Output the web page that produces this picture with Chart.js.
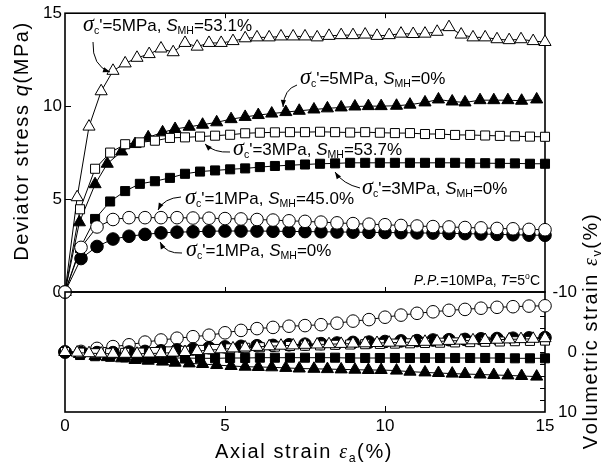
<!DOCTYPE html>
<html>
<head>
<meta charset="utf-8">
<script src="https://cdn.jsdelivr.net/npm/chart.js@4.4.1/dist/chart.umd.min.js"></script>
<style>
  html, body { margin: 0; padding: 0; background: #fff; }
  #wrap { position: relative; width: 612px; height: 466px; }
  canvas { position: absolute; left: 0; top: 0; }
</style>
</head>
<body>
<div id="wrap">
  <canvas id="qChart" width="612" height="466"></canvas>
  <canvas id="evChart" width="612" height="466"></canvas>
</div>
<script>
// axial strain (%) at each measuring point, one list per marker series
const strainC = [0, 0.5, 1, 1.5, 2, 2.5, 3, 3.5, 4, 4.5, 5, 5.5, 6, 6.5, 7, 7.5, 8, 8.5, 9, 9.5, 10,
  10.5, 11, 11.5, 12, 12.5, 13, 13.5, 14, 14.5, 15];
const strainS = [0, 0.47, 0.94, 1.41, 1.88, 2.34, 2.81, 3.28, 3.75, 4.22, 4.69, 5.16, 5.63, 6.09, 6.56,
  7.03, 7.5, 7.97, 8.44, 8.91, 9.38, 9.84, 10.31, 10.78, 11.25, 11.72, 12.19, 12.66, 13.13, 13.59,
  14.06, 14.53, 15];
const strainTF = [0, 0.45, 0.94, 1.32, 1.77, 2.19, 2.6, 3.05, 3.44, 3.88, 4.3, 4.74, 5.19, 5.63, 6.04,
  6.46, 6.9, 7.32, 7.78, 8.2, 8.63, 9.06, 9.48, 9.88, 10.36, 10.78, 11.25, 11.67, 12.1, 12.5, 12.97,
  13.4, 13.84, 14.27, 14.74];
const strainTO = [0, 0.38, 0.75, 1.13, 1.5, 1.88, 2.25, 2.63, 3, 3.38, 3.75, 4.13, 4.5, 4.88, 5.25,
  5.63, 6, 6.38, 6.75, 7.13, 7.5, 7.88, 8.25, 8.63, 9, 9.38, 9.75, 10.13, 10.5, 10.88, 11.25, 11.63,
  12, 12.38, 12.75, 13.13, 13.5, 13.88, 14.25, 14.63, 15];

// deviator stress q (MPa)
const qTO = [0, 5.1, 8.9, 10.8, 11.9, 12.3, 12.6, 12.8, 13.1, 12.9, 13.4, 13.2, 13.4, 13.4, 13.5,
  13.65, 13.7, 13.7, 13.75, 13.75, 13.75, 13.7, 13.78, 13.82, 13.82, 13.85, 13.78, 13.82, 13.9, 13.88,
  13.9, 14.0, 14.25, 13.85, 13.7, 13.7, 13.6, 13.55, 13.6, 13.5, 13.45];
const qTF = [0, 3.75, 5.8, 6.9, 7.56, 7.96, 8.32, 8.59, 8.77, 8.89, 9.0, 9.13, 9.3, 9.42, 9.52, 9.6,
  9.68, 9.75, 9.82, 9.88, 9.93, 9.98, 10.0, 10.0, 10.02, 10.08, 10.2, 10.36, 10.25, 10.2, 10.32,
  10.32, 10.32, 10.29, 10.36];
const qOS = [0, 4.45, 6.63, 7.5, 7.95, 8.05, 8.14, 8.29, 8.32, 8.36, 8.41, 8.46, 8.54, 8.57, 8.59,
  8.6, 8.6, 8.62, 8.6, 8.58, 8.6, 8.57, 8.55, 8.55, 8.5, 8.5, 8.45, 8.45, 8.42, 8.4, 8.38, 8.36, 8.35];
const qFS = [0, 2.36, 3.93, 4.87, 5.43, 5.82, 5.96, 6.14, 6.36, 6.48, 6.54, 6.6, 6.65, 6.72, 6.78,
  6.82, 6.86, 6.9, 6.92, 6.95, 6.95, 6.95, 6.95, 6.95, 6.95, 6.95, 6.95, 6.93, 6.93, 6.92, 6.92, 6.9, 6.9];
const qOC = [0, 2.4, 3.5, 3.9, 4.0, 4.0, 4.0, 4.0, 3.98, 3.97, 3.95, 3.93, 3.9, 3.87, 3.83, 3.8,
  3.76, 3.72, 3.68, 3.65, 3.62, 3.58, 3.55, 3.52, 3.5, 3.47, 3.45, 3.42, 3.4, 3.37, 3.35];
const qFC = [0, 1.8, 2.45, 2.85, 3.0, 3.1, 3.18, 3.22, 3.24, 3.27, 3.28, 3.28, 3.28, 3.27, 3.26,
  3.25, 3.24, 3.23, 3.22, 3.21, 3.2, 3.19, 3.18, 3.17, 3.15, 3.14, 3.12, 3.1, 3.08, 3.06, 3.05];

// volumetric strain ev (%), compression positive
const evTO = [0, 0.1, 0.2, 0.25, 0.3, 0.3, 0.3, 0.25, 0.2, 0.1, 0, -0.15, -0.3, -0.45, -0.6, -0.75,
  -0.85, -0.95, -1.05, -1.1, -1.2, -1.25, -1.3, -1.35, -1.4, -1.45, -1.5, -1.55, -1.6, -1.65, -1.7,
  -1.75, -1.85, -1.9, -1.95, -2.0, -2.05, -2.1, -2.15, -2.2, -2.3];
const evTF = [0, 0.33, 0.67, 0.85, 1.05, 1.33, 1.45, 1.6, 1.78, 1.9, 2.0, 2.17, 2.33, 2.45, 2.5,
  2.55, 2.65, 2.75, 2.8, 2.85, 2.9, 2.95, 3.0, 3.0, 3.1, 3.28, 3.4, 3.5, 3.6, 3.67, 3.75, 3.83, 3.9,
  4.0, 4.1];
const evOS = [0, 0.1, 0.2, 0.2, 0.15, 0.1, 0, -0.1, -0.2, -0.35, -0.5, -0.6, -0.7, -0.8, -0.9, -1.0,
  -1.05, -1.1, -1.2, -1.25, -1.3, -1.35, -1.4, -1.45, -1.5, -1.55, -1.6, -1.65, -1.7, -1.75, -1.8,
  -1.85, -1.9];
const evFS = [0, 0.5, 0.7, 0.8, 0.9, 0.95, 1.0, 1.0, 1.0, 1.05, 1.05, 1.0, 1.0, 0.95, 0.95, 0.95,
  0.95, 0.95, 0.95, 1.0, 1.0, 1.0, 1.0, 1.0, 1.0, 1.0, 1.0, 1.0, 1.0, 1.0, 1.05, 1.05, 1.05];
const evOC = [0, -0.1, -0.6, -0.9, -1.2, -1.65, -2.0, -2.3, -2.55, -2.8, -3.2, -3.6, -3.9, -4.1,
  -4.3, -4.4, -4.55, -4.8, -5.15, -5.4, -5.8, -6.15, -6.45, -6.7, -6.95, -7.1, -7.3, -7.45, -7.55,
  -7.65, -7.7];
const evFC = [0, 0.1, 0.1, 0.1, 0, -0.1, -0.2, -0.35, -0.5, -0.7, -0.85, -0.95, -1.05, -1.1, -1.2,
  -1.3, -1.4, -1.5, -1.6, -1.65, -1.75, -1.85, -1.9, -2.0, -2.05, -2.1, -2.2, -2.25, -2.3, -2.35, -2.4];

// axis ticks
const xTickMarks = [5, 10];
const qTickMarks = [5, 10];
const evTickMarks = [-8, -6, -4, -2, 0, 2, 4, 6, 8];

const FAM = '"Liberation Sans", Arial, sans-serif';
const SERIF = '"Liberation Serif", "Times New Roman", serif';

function pts(xs, ys) {
  return xs.map(function (x, i) { return { x: x, y: ys[i] }; });
}

function series(xs, ys, style, open, radius) {
  return {
    data: pts(xs, ys),
    showLine: true,
    borderColor: '#000',
    borderWidth: 1,
    pointStyle: style,
    pointRadius: radius,
    pointBorderWidth: 1,
    pointBorderColor: '#000',
    pointBackgroundColor: open ? '#fff' : '#000',
    tension: 0,
    clip: false,
  };
}

// draws text made of parts (italic / subscript / superscript), baseline at y
function richText(ctx, x, y, parts, size, align, spacing) {
  spacing = spacing || 0;
  var items = [];
  var total = 0;
  parts.forEach(function (p) {
    var s = (p.sub || p.sup) ? size * 0.62 : size * (p.scale || 1);
    var font = (p.it ? 'italic ' : '') + s + 'px ' + (p.serif ? SERIF : FAM);
    ctx.font = font;
    Array.from(p.t).forEach(function (ch) {
      var w = ctx.measureText(ch).width + spacing;
      items.push({ ch: ch, font: font, w: w, dy: p.sub ? size * 0.2 : (p.sup ? -size * 0.42 : 0) });
      total += w;
    });
  });
  var cx = align === 'right' ? x - total : (align === 'center' ? x - total / 2 : x);
  ctx.textAlign = 'left';
  ctx.textBaseline = 'alphabetic';
  items.forEach(function (it) {
    ctx.font = it.font;
    ctx.fillText(it.ch, cx, y + it.dy);
    cx += it.w;
  });
}

function arrow(ctx, p0, c, p1) {
  ctx.beginPath();
  ctx.moveTo(p0[0], p0[1]);
  ctx.quadraticCurveTo(c[0], c[1], p1[0], p1[1]);
  ctx.stroke();
  var ang = Math.atan2(p1[1] - c[1], p1[0] - c[0]);
  var L = 7, W = 2.6;
  var bx = p1[0] - L * Math.cos(ang), by = p1[1] - L * Math.sin(ang);
  ctx.beginPath();
  ctx.moveTo(p1[0], p1[1]);
  ctx.lineTo(bx + W * Math.sin(ang), by - W * Math.cos(ang));
  ctx.lineTo(bx - W * Math.sin(ang), by + W * Math.cos(ang));
  ctx.closePath();
  ctx.fill();
}

function label(sig, smh) {
  return [
    { t: 'σ', it: true, serif: true, scale: 1.3 }, { t: 'c', sub: true }, { t: "'=" + sig + 'MPa, ' },
    { t: 'S', it: true }, { t: 'MH', sub: true }, { t: '=' + smh + '%' },
  ];
}

// text left x, baseline y, then arrow start / control / head (pixels)
const notes = [
  { x: 83, y: 31, parts: label(5, '53.1'), a: [[93, 42], [92, 66], [110, 72]] },
  { x: 300, y: 84, parts: label(5, '0'), a: [[297, 85], [284, 89], [283, 107]] },
  { x: 233, y: 155, parts: label(3, '53.7'), a: [[230, 152], [214, 153], [205, 144]] },
  { x: 362, y: 194, parts: label(3, '0'), a: [[360, 188], [343, 184], [335, 172]] },
  { x: 185, y: 204, parts: label(1, '45.0'), a: [[181, 197], [164, 198], [158, 210]] },
  { x: 186, y: 256, parts: label(1, '0'), a: [[182, 253], [166, 254], [160, 242]] },
];

const topFrame = {
  id: 'topFrame',
  beforeDatasetsDraw(chart) {
    var ctx = chart.ctx, a = chart.chartArea, x = chart.scales.x, y = chart.scales.y;
    ctx.save();
    ctx.strokeStyle = '#000';
    ctx.lineWidth = 1.6;
    ctx.strokeRect(a.left, a.top, a.right - a.left, a.bottom - a.top);
    ctx.lineWidth = 1;
    ctx.beginPath();
    xTickMarks.forEach(function (v) {
      var px = Math.round(x.getPixelForValue(v)) + 0.5;
      ctx.moveTo(px, a.top); ctx.lineTo(px, a.top + 5);
      ctx.moveTo(px, a.bottom); ctx.lineTo(px, a.bottom - 5);
    });
    qTickMarks.forEach(function (v) {
      var py = Math.round(y.getPixelForValue(v)) + 0.5;
      ctx.moveTo(a.left, py); ctx.lineTo(a.left + 6, py);
    });
    ctx.stroke();
    ctx.restore();
  },
  afterDatasetsDraw(chart) {
    var ctx = chart.ctx;
    ctx.save();
    ctx.fillStyle = '#000';
    ctx.strokeStyle = '#000';
    ctx.lineWidth = 1;
    notes.forEach(function (n) {
      richText(ctx, n.x, n.y, n.parts, 17, 'left');
      arrow(ctx, n.a[0], n.a[1], n.a[2]);
    });
    richText(ctx, 540, 285, [
      { t: 'P.P.', it: true }, { t: '=10MPa, ' }, { t: 'T', it: true }, { t: '=5' },
      { t: 'o', sup: true }, { t: 'C' },
    ], 14, 'right');
    // left axis title
    ctx.translate(28, 141);
    ctx.rotate(-Math.PI / 2);
    richText(ctx, 0, 0, [
      { t: 'Deviator stress ' }, { t: 'q', it: true }, { t: '(MPa)' },
    ], 20, 'center', 1.6);
    ctx.restore();
  },
};

const bottomFrame = {
  id: 'bottomFrame',
  beforeDatasetsDraw(chart) {
    var ctx = chart.ctx, a = chart.chartArea, x = chart.scales.x, y = chart.scales.y;
    ctx.save();
    ctx.strokeStyle = '#000';
    ctx.lineWidth = 1.6;
    ctx.strokeRect(a.left, a.top, a.right - a.left, a.bottom - a.top);
    ctx.lineWidth = 1;
    ctx.beginPath();
    xTickMarks.forEach(function (v) {
      var px = Math.round(x.getPixelForValue(v)) + 0.5;
      ctx.moveTo(px, a.bottom); ctx.lineTo(px, a.bottom - 6);
    });
    evTickMarks.forEach(function (v) {
      var py = Math.round(y.getPixelForValue(v)) + 0.5;
      ctx.moveTo(a.right, py); ctx.lineTo(a.right - 5, py);
    });
    ctx.stroke();
    ctx.restore();
  },
  afterDraw(chart) {
    var ctx = chart.ctx;
    ctx.save();
    ctx.fillStyle = '#000';
    richText(ctx, 304, 458, [
      { t: 'Axial strain ' }, { t: 'ε', it: true, serif: true }, { t: 'a', sub: true }, { t: '(%)' },
    ], 20, 'center', 1.6);
    ctx.translate(597, 331);
    ctx.rotate(-Math.PI / 2);
    richText(ctx, 0, 0, [
      { t: 'Volumetric strain ' }, { t: 'ε', it: true, serif: true }, { t: 'v', sub: true }, { t: '(%)' },
    ], 20, 'center', 1.6);
    ctx.restore();
  },
};

const tickFont = { family: FAM, size: 17 };
const noGrid = { display: false, drawTicks: false };
const noBorder = { display: false };

new Chart(document.getElementById('qChart'), {
  type: 'scatter',
  data: {
    datasets: [
      series(strainC, qOC, 'circle', true, 6.3),
      series(strainC, qFC, 'circle', false, 6.3),
      series(strainS, qOS, 'rect', true, 6.4),
      series(strainS, qFS, 'rect', false, 6.4),
      series(strainTF, qTF, 'triangle', false, 7),
      series(strainTO, qTO, 'triangle', true, 7),
    ],
  },
  options: {
    responsive: false,
    animation: false,
    layout: { padding: { left: 0, top: 12, right: 67, bottom: 174 } },
    plugins: { legend: { display: false }, tooltip: { enabled: false } },
    scales: {
      x: { type: 'linear', min: 0, max: 15, display: false },
      y: {
        type: 'linear', min: 0, max: 15,
        grid: noGrid, border: noBorder,
        ticks: { stepSize: 5, color: '#000', font: tickFont, padding: 3 },
        afterFit: function (s) { s.width = 65; },
      },
    },
  },
  plugins: [topFrame],
});

new Chart(document.getElementById('evChart'), {
  type: 'scatter',
  data: {
    datasets: [
      series(strainTO, evTO, 'triangle', true, 7),
      series(strainS, evOS, 'rect', true, 6.4),
      series(strainC, evFC, 'circle', false, 6.3),
      series(strainC, evOC, 'circle', true, 6.3),
      series(strainS, evFS, 'rect', false, 6.4),
      series(strainTF, evTF, 'triangle', false, 7),
    ],
  },
  options: {
    responsive: false,
    animation: false,
    layout: { padding: { left: 65, top: 292, right: 35, bottom: 0 } },
    plugins: { legend: { display: false }, tooltip: { enabled: false } },
    scales: {
      x: {
        type: 'linear', min: 0, max: 15, position: 'bottom',
        grid: noGrid, border: noBorder,
        ticks: { stepSize: 5, color: '#000', font: tickFont, padding: 4, maxRotation: 0 },
        afterFit: function (s) { s.height = 54; },
      },
      y: {
        type: 'linear', min: -10, max: 10, reverse: true, position: 'right',
        grid: noGrid, border: noBorder,
        ticks: { stepSize: 10, color: '#000', font: tickFont, padding: 4, crossAlign: 'far' },
        afterFit: function (s) { s.width = 32; },
      },
    },
  },
  plugins: [bottomFrame],
});
</script>
</body>
</html>
